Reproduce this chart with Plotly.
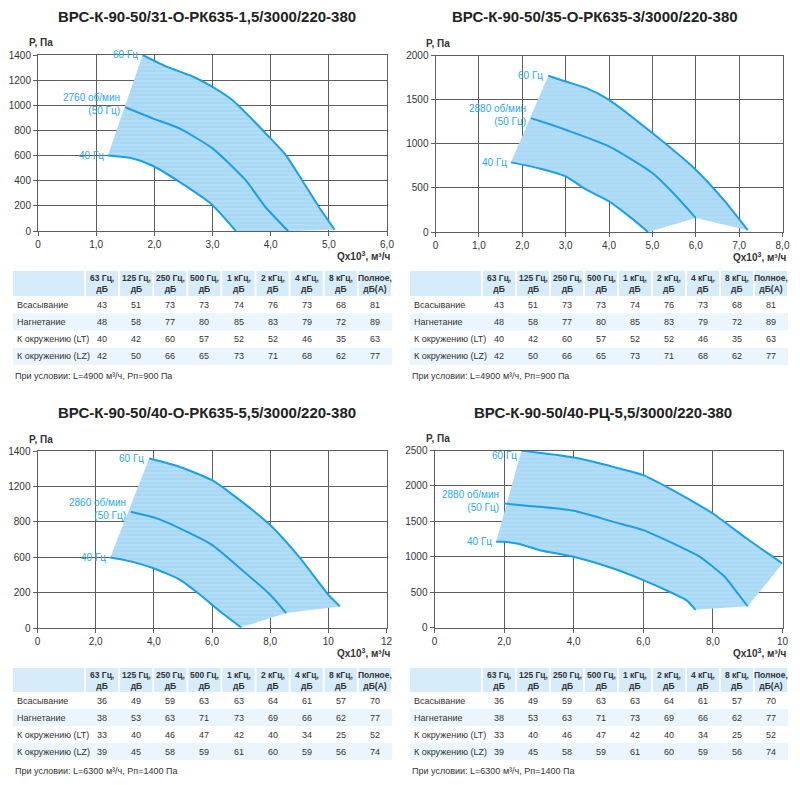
import plotly.graph_objects as go

# ---- данные (читаются с картинки) ----
titles = ['ВРС-К-90-50/31-О-РК635-1,5/3000/220-380',
          'ВРС-К-90-50/35-О-РК635-3/3000/220-380',
          'ВРС-К-90-50/40-О-РК635-5,5/3000/220-380',
          'ВРС-К-90-50/40-РЦ-5,5/3000/220-380']

rpm_labels = ['2760 об/мин', '2880 об/мин', '2860 об/мин', '2880 об/мин']

# панель 1
p1_60_x = [1.8, 2.2, 2.66, 2.97, 3.34, 3.97, 4.26, 4.54, 4.83, 5.1]
p1_60_y = [1400, 1310, 1229, 1154, 1042, 750, 604, 404, 191, 10]
p1_50_x = [1.5, 1.97, 2.43, 3.0, 3.57, 3.91, 4.3]
p1_50_y = [984, 896, 816, 657, 404, 191, 0]
p1_40_x = [1.2, 1.6, 1.97, 2.43, 2.97, 3.4]
p1_40_y = [601, 580, 519, 391, 218, 0]

# панель 2
p2_60_x = [2.6, 3.0, 3.48, 4.0, 5.0, 6.0, 6.64, 7.2]
p2_60_y = [1770, 1706, 1630, 1498, 1121, 706, 366, 20]
p2_50_x = [2.2, 2.6, 3.0, 4.0, 5.0, 5.48, 6.0]
p2_50_y = [1290, 1226, 1158, 970, 668, 442, 160]
p2_40_x = [1.74, 2.4, 3.0, 3.48, 4.0, 4.56, 4.9]
p2_40_y = [789, 720, 630, 479, 347, 140, 0]

# панель 3
p3_60_x = [3.84, 4.9, 6.0, 6.73, 8.0, 9.03, 10.0, 10.4]
p3_60_y = [1340, 1274, 1169, 1051, 814, 552, 263, 171]
p3_50_x = [3.21, 4.1, 5.13, 6.0, 6.96, 8.0, 8.55]
p3_50_y = [919, 867, 762, 657, 473, 263, 118]
p3_40_x = [2.5, 3.07, 3.99, 4.9, 5.59, 6.28, 7.0]
p3_40_y = [557, 533, 473, 381, 263, 131, 5]

# панель 4
p4_60_x = [2.5, 4.0, 5.14, 6.0, 6.67, 7.44, 8.0, 8.97, 10.0]
p4_60_y = [2500, 2401, 2269, 2152, 1987, 1775, 1610, 1257, 904]
p4_50_x = [2.0, 3.03, 4.0, 5.14, 6.0, 6.96, 7.63, 8.0, 8.34, 8.68, 9.0]
p4_50_y = [1751, 1704, 1648, 1492, 1375, 1163, 998, 857, 716, 504, 300]
p4_40_x = [1.77, 2.0, 2.46, 3.03, 4.0, 5.14, 6.0, 6.86, 7.24, 7.5]
p4_40_y = [1210, 1210, 1177, 1092, 998, 833, 669, 480, 386, 250]

# оси
x_ranges = [[0, 6], [0, 8], [0, 12], [0, 10]]
x_tickvals = [[0, 1, 2, 3, 4, 5, 6], [0, 1, 2, 3, 4, 5, 6, 7, 8],
              [0, 2, 4, 6, 8, 10, 12], [0, 2, 4, 6, 8, 10]]
x_ticktext = [['0', '1,0', '2,0', '3,0', '4,0', '5,0', '6,0'],
              ['0', '1,0', '2,0', '3,0', '4,0', '5,0', '6,0', '7,0', '8,0'],
              ['0', '2,0', '4,0', '6,0', '8,0', '10', '12'],
              ['0', '2,0', '4,0', '6,0', '8,0', '10']]
y_ranges = [[0, 1400], [0, 2000], [0, 1400], [0, 2500]]
y_tickvals = [[0, 200, 400, 600, 800, 1000, 1200, 1400],
              [0, 500, 1000, 1500, 2000],
              [0, 280, 560, 840, 1120, 1400],
              [0, 500, 1000, 1500, 2000, 2500]]
y_ticktext = [['0', '200', '400', '600', '800', '1000', '1200', '1400'],
              ['0', '500', '1000', '1500', '2000'],
              ['0', '200', '600', '800', '1200', '1400'],
              ['0', '500', '1000', '1500', '2000', '2500']]

# таблицы шума
tbl_header = ['', '63 Гц,<br>дБ', '125 Гц,<br>дБ', '250 Гц,<br>дБ', '500 Гц,<br>дБ',
              '1 кГц,<br>дБ', '2 кГц,<br>дБ', '4 кГц,<br>дБ', '8 кГц,<br>дБ',
              'Полное,<br>дБ(А)']
tbl_rows = ['Всасывание', 'Нагнетание', 'К окружению (LT)', 'К окружению (LZ)']
noise_top = [[43, 51, 73, 73, 74, 76, 73, 68, 81],
             [48, 58, 77, 80, 85, 83, 79, 72, 89],
             [40, 42, 60, 57, 52, 52, 46, 35, 63],
             [42, 50, 66, 65, 73, 71, 68, 62, 77]]
noise_bottom = [[36, 49, 59, 63, 63, 64, 61, 57, 70],
                [38, 53, 63, 71, 73, 69, 66, 62, 77],
                [33, 40, 46, 47, 42, 40, 34, 25, 52],
                [39, 45, 58, 59, 61, 60, 59, 56, 74]]
notes = ['При условии: L=4900 м³/ч, Рп=900 Па',
         'При условии: L=6300 м³/ч, Рп=1400 Па']

# ---- построение ----
# страница даёт отступ 8px, поэтому фигура чуть меньше окна
OFF = 8
W, H = 792, 777
BLUE = '#1c9fe3'
LBL = '#29a9ea'
FILL = '#a9d8f5'
HDR = '#d6ecfa'
STRIPE = '#eaf5fd'
TXT = '#333333'


def px(v):
    return (v - OFF) / W


def py(v):
    return 1 - (v - OFF) / H


panels = [
    (p1_60_x, p1_60_y, p1_50_x, p1_50_y, p1_40_x, p1_40_y),
    (p2_60_x, p2_60_y, p2_50_x, p2_50_y, p2_40_x, p2_40_y),
    (p3_60_x, p3_60_y, p3_50_x, p3_50_y, p3_40_x, p3_40_y),
    (p4_60_x, p4_60_y, p4_50_x, p4_50_y, p4_40_x, p4_40_y),
]

# области графиков в пикселях окна: (лево, право, верх, низ)
boxes = [(38, 387, 55, 231), (435.5, 782.5, 55.5, 232),
         (37.5, 386.5, 451, 628), (434.5, 782.5, 450.5, 627.5)]
title_x = [207, 595, 207, 603]
title_y = [17, 17, 412, 412]

fig = go.Figure()
annotations = []
shapes = []
layout_axes = {}

for i, (x60, y60, x50, y50, x40, y40) in enumerate(panels):
    n = '' if i == 0 else str(i + 1)
    xa, ya = 'x' + n, 'y' + n
    l, r, t, b = boxes[i]

    # заливка рабочей области
    fx = list(x60) + [x50[-1]] + list(x40[::-1])
    fy = list(y60) + [y50[-1]] + list(y40[::-1])
    fig.add_trace(go.Scatter(
        x=fx, y=fy, xaxis=xa, yaxis=ya, fill='toself', mode='lines',
        line=dict(width=0), fillcolor=FILL,
        fillpattern=dict(shape='-', bgcolor=FILL, fgcolor='#c4e6fa',
                         size=4, solidity=0.3),
        hoverinfo='skip', showlegend=False))

    for cx, cy in [(x60, y60), (x50, y50), (x40, y40)]:
        fig.add_trace(go.Scatter(
            x=cx, y=cy, xaxis=xa, yaxis=ya, mode='lines',
            line=dict(color=BLUE, width=2, shape='spline', smoothing=0.6),
            showlegend=False))

    common = dict(showgrid=True, gridcolor='#5e5e5e', gridwidth=1,
                  showline=True, linecolor='#5e5e5e', mirror=True,
                  zeroline=False, ticks='outside', ticklen=4,
                  tickcolor='#5e5e5e', tickfont=dict(size=10, color=TXT),
                  fixedrange=True, automargin=False)
    layout_axes['xaxis' + n] = dict(
        domain=[px(l), px(r)], anchor=ya, range=x_ranges[i],
        tickvals=x_tickvals[i], ticktext=x_ticktext[i], **common)
    layout_axes['yaxis' + n] = dict(
        domain=[py(b), py(t)], anchor=xa, range=y_ranges[i],
        tickvals=y_tickvals[i], ticktext=y_ticktext[i], **common)

    # заголовок и подписи осей
    annotations.append(dict(
        text='<b>' + titles[i] + '</b>', xref='paper', yref='paper',
        x=px(title_x[i]), y=py(title_y[i]), showarrow=False,
        xanchor='center', yanchor='middle',
        font=dict(size=15, color='#222')))
    annotations.append(dict(
        text='<b>P, Па</b>', xref='paper', yref='paper',
        x=px(l - 11), y=py(t - 12), showarrow=False,
        xanchor='left', yanchor='middle', font=dict(size=10, color=TXT)))
    annotations.append(dict(
        text='<b>Qx10<sup>3</sup>, м³/ч</b>', xref='paper', yref='paper',
        x=px(r + 5), y=py(b + 25), showarrow=False,
        xanchor='right', yanchor='middle', font=dict(size=10, color=TXT)))

    # подписи кривых
    lbl_font = dict(size=10, color=LBL)
    annotations.append(dict(
        text='60 Гц', xref=xa, yref=ya, x=x60[0], y=y60[0],
        xanchor='right', yanchor='middle', xshift=-3,
        yshift=-5 if i == 3 else 0, showarrow=False, font=lbl_font))
    annotations.append(dict(
        text=rpm_labels[i] + '<br>(50 Гц)', xref=xa, yref=ya,
        x=x50[0], y=y50[0], xanchor='right', yanchor='middle', align='right',
        xshift=-3, yshift=3, showarrow=False, font=lbl_font))
    annotations.append(dict(
        text='40 Гц', xref=xa, yref=ya, x=x40[0], y=y40[0],
        xanchor='right', yanchor='middle', xshift=-2, showarrow=False,
        font=lbl_font))

# таблицы (рисуются фигурами и подписями)
tbl_pos = [(13, 392, 271, 25, 17.25, noise_top, notes[0]),
           (410, 788, 271, 25, 17.25, noise_top, notes[0]),
           (13, 392, 668, 24, 17, noise_bottom, notes[1]),
           (410, 788, 668, 24, 17, noise_bottom, notes[1])]
for l, r, t, hh, rh, data, note in tbl_pos:
    first_w = 72
    cw = (r - l - first_w) / 9
    edges = [l, l + first_w] + [l + first_w + cw * (j + 1) for j in range(9)]
    # шапка
    for j in range(10):
        shapes.append(dict(type='rect', xref='paper', yref='paper',
                           x0=px(edges[j] + (1 if j else 0)), x1=px(edges[j + 1] - 1),
                           y0=py(t + hh), y1=py(t), fillcolor=HDR,
                           line=dict(width=0), layer='below'))
        if tbl_header[j]:
            annotations.append(dict(
                text='<b>' + tbl_header[j] + '</b>', xref='paper',
                yref='paper', x=px((edges[j] + edges[j + 1]) / 2),
                y=py(t + hh / 2), xanchor='center', yanchor='middle',
                align='center', showarrow=False,
                font=dict(size=8.5, color=TXT)))
    # строки
    for k, name in enumerate(tbl_rows):
        y0 = t + hh + rh * k
        if k % 2 == 1:
            shapes.append(dict(type='rect', xref='paper', yref='paper',
                               x0=px(l), x1=px(r), y0=py(y0 + rh), y1=py(y0),
                               fillcolor=STRIPE, line=dict(width=0),
                               layer='below'))
        annotations.append(dict(
            text=name, xref='paper', yref='paper', x=px(l + 2),
            y=py(y0 + rh / 2), xanchor='left', yanchor='middle',
            showarrow=False, font=dict(size=9, color=TXT)))
        for j, v in enumerate(data[k]):
            annotations.append(dict(
                text=str(v), xref='paper', yref='paper',
                x=px((edges[j + 1] + edges[j + 2]) / 2), y=py(y0 + rh / 2),
                xanchor='center', yanchor='middle', showarrow=False,
                font=dict(size=9, color=TXT)))
    annotations.append(dict(
        text=note, xref='paper', yref='paper', x=px(l),
        y=py(t + hh + rh * 4 + 11), xanchor='left', yanchor='middle',
        showarrow=False, font=dict(size=9, color=TXT)))

fig.update_layout(
    width=W, height=H, margin=dict(l=0, r=0, t=0, b=0),
    paper_bgcolor='white', plot_bgcolor='white',
    font=dict(family='Liberation Sans, Arial, sans-serif', color=TXT),
    annotations=annotations, shapes=shapes, showlegend=False, **layout_axes)

fig.write_html('out.html')
